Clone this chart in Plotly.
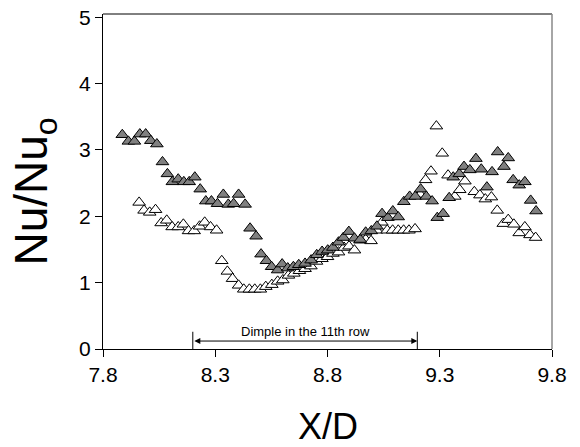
import plotly.graph_objects as go

# filled (gray) triangles
filled_x = [7.886, 7.913, 7.94, 7.964, 7.99, 8.013, 8.04, 8.065, 8.087, 8.109,
            8.135, 8.16, 8.184, 8.209, 8.233, 8.258, 8.283, 8.31, 8.336, 8.358,
            8.382, 8.404, 8.433, 8.455, 8.482, 8.504, 8.528, 8.551, 8.578, 8.598,
            8.623, 8.648, 8.672, 8.70, 8.727, 8.752, 8.776, 8.801, 8.824, 8.849,
            8.871, 8.895, 8.92, 8.946, 8.97, 8.995, 9.02, 9.043, 9.069, 9.091,
            9.115, 9.14, 9.166, 9.191, 9.215, 9.24, 9.266, 9.289, 9.315, 9.342,
            9.36, 9.387, 9.408, 9.434, 9.461, 9.485, 9.51, 9.533, 9.558, 9.586,
            9.605, 9.627, 9.654, 9.679, 9.705, 9.729]
filled_y = [3.23, 3.13, 3.13, 3.24, 3.24, 3.14, 3.09, 2.82, 2.64, 2.52,
            2.56, 2.52, 2.52, 2.59, 2.41, 2.23, 2.23, 2.19, 2.33, 2.18,
            2.19, 2.33, 2.18, 1.82, 1.70, 1.43, 1.33, 1.24, 1.19, 1.28,
            1.22, 1.24, 1.27, 1.29, 1.34, 1.42, 1.47, 1.49, 1.53, 1.61,
            1.68, 1.77, 1.67, 1.65, 1.76, 1.78, 1.85, 2.04, 1.98, 2.08,
            1.99, 2.22, 2.30, 2.30, 2.41, 2.30, 2.23, 1.98, 2.04, 2.28,
            2.59, 2.64, 2.75, 2.70, 2.87, 2.71, 2.44, 2.67, 2.97, 2.75,
            2.88, 2.55, 2.47, 2.52, 2.24, 2.08]

# open (white) triangles
open_x = [7.961, 7.983, 8.008, 8.034, 8.059, 8.084, 8.108, 8.135, 8.158, 8.181,
          8.206, 8.23, 8.253, 8.279, 8.306, 8.329, 8.354, 8.377, 8.404, 8.427,
          8.452, 8.476, 8.501, 8.525, 8.552, 8.578, 8.601, 8.626, 8.65, 8.675,
          8.70, 8.726, 8.751, 8.775, 8.80, 8.824, 8.849, 8.874, 8.896, 8.92,
          8.945, 8.97, 8.994, 9.019, 9.042, 9.066, 9.09, 9.115, 9.139, 9.163,
          9.19, 9.213, 9.237, 9.261, 9.285, 9.311, 9.337, 9.367, 9.389, 9.412,
          9.454, 9.479, 9.503, 9.53, 9.556, 9.583, 9.605, 9.63, 9.654, 9.679,
          9.702, 9.727]
open_y = [2.21, 2.09, 2.06, 2.10, 1.90, 1.94, 1.84, 1.84, 1.88, 1.78,
          1.78, 1.85, 1.91, 1.84, 1.79, 1.33, 1.17, 1.06, 0.96, 0.90,
          0.90, 0.90, 0.90, 0.94, 0.97, 1.02, 1.04, 1.11, 1.14, 1.18,
          1.21, 1.25, 1.32, 1.36, 1.39, 1.44, 1.46, 1.53, 1.55, 1.49,
          1.64, 1.65, 1.63, 1.79, 1.91, 1.79, 1.79, 1.79, 1.79, 1.79,
          1.81, 2.33, 2.55, 2.68, 3.36, 2.95, 2.62, 2.30, 2.40, 2.53,
          2.37, 2.32, 2.26, 2.29, 2.09, 1.89, 1.95, 1.88, 1.75, 1.84,
          1.72, 1.68]

x_ticks = [7.8, 8.3, 8.8, 9.3, 9.8]
x_ticklabels = ["7.8", "8.3", "8.8", "9.3", "9.8"]
y_ticks = [0, 1, 2, 3, 4, 5]

dimple_start, dimple_end = 8.2, 9.2

font = "Liberation Sans, Arial, sans-serif"

open_trace = go.Scatter(
    x=open_x, y=open_y, mode='markers', hoverinfo='none',
    marker=dict(symbol='triangle-up', size=11, color='white',
                line=dict(color='black', width=1)),
)
filled_trace = go.Scatter(
    x=filled_x, y=filled_y, mode='markers', hoverinfo='none',
    marker=dict(symbol='triangle-up', size=11, color='#808080',
                line=dict(color='black', width=1)),
)

axis_common = dict(showgrid=False, zeroline=False, showline=True, linecolor='black',
                   linewidth=1, ticks='outside', ticklen=7, tickcolor='black',
                   tickfont=dict(size=21), automargin=False)

layout = go.Layout(
    width=580, height=447,
    margin=dict(l=103, r=28, t=14, b=98),
    showlegend=False,
    paper_bgcolor='white',
    plot_bgcolor='white',
    font=dict(family=font, color='black'),
    xaxis=dict(range=[7.8, 9.8], tickvals=x_ticks, ticktext=x_ticklabels, **axis_common),
    yaxis=dict(range=[0, 5.05], tickvals=y_ticks, **axis_common),
    shapes=[
        # top and right frame
        dict(type='line', xref='paper', yref='paper', x0=0, x1=1, y0=1, y1=1,
             line=dict(color='black', width=1)),
        dict(type='line', xref='paper', yref='paper', x0=1, x1=1, y0=0, y1=1,
             line=dict(color='#888', width=1.5)),
        # dimple end markers
        dict(type='line', xref='x', yref='y', x0=dimple_start, x1=dimple_start,
             y0=0, y1=0.26, line=dict(color='black', width=1)),
        dict(type='line', xref='x', yref='y', x0=dimple_end, x1=dimple_end,
             y0=0, y1=0.26, line=dict(color='black', width=1)),
    ],
    annotations=[
        dict(x=dimple_end, y=0.12, ax=dimple_start, ay=0.12, xref='x', yref='y',
             axref='x', ayref='y', text='', showarrow=True, arrowhead=2,
             arrowside='end+start', arrowsize=1.2, arrowwidth=1, arrowcolor='black'),
        dict(x=(dimple_start + dimple_end) / 2, y=0.27, xref='x', yref='y',
             text='Dimple in the 11th row', showarrow=False,
             font=dict(size=13), yanchor='middle'),
        # axis titles
        dict(x=0.5, y=0, xref='paper', yref='paper', text='X/D', showarrow=False,
             font=dict(size=36), xanchor='center', yanchor='middle', yshift=-77),
        dict(x=0, y=0.47, xref='paper', yref='paper', text='Nu/Nu<sub>o</sub>',
             showarrow=False, font=dict(size=46), textangle=-90,
             xanchor='center', yanchor='middle', xshift=-68),
    ],
)

fig = go.Figure(data=[open_trace, filled_trace], layout=layout)
# page body margin would shift the figure; remove it
fig.write_html("out.html", config={'displayModeBar': False},
               post_script="document.body.style.margin='0';")
